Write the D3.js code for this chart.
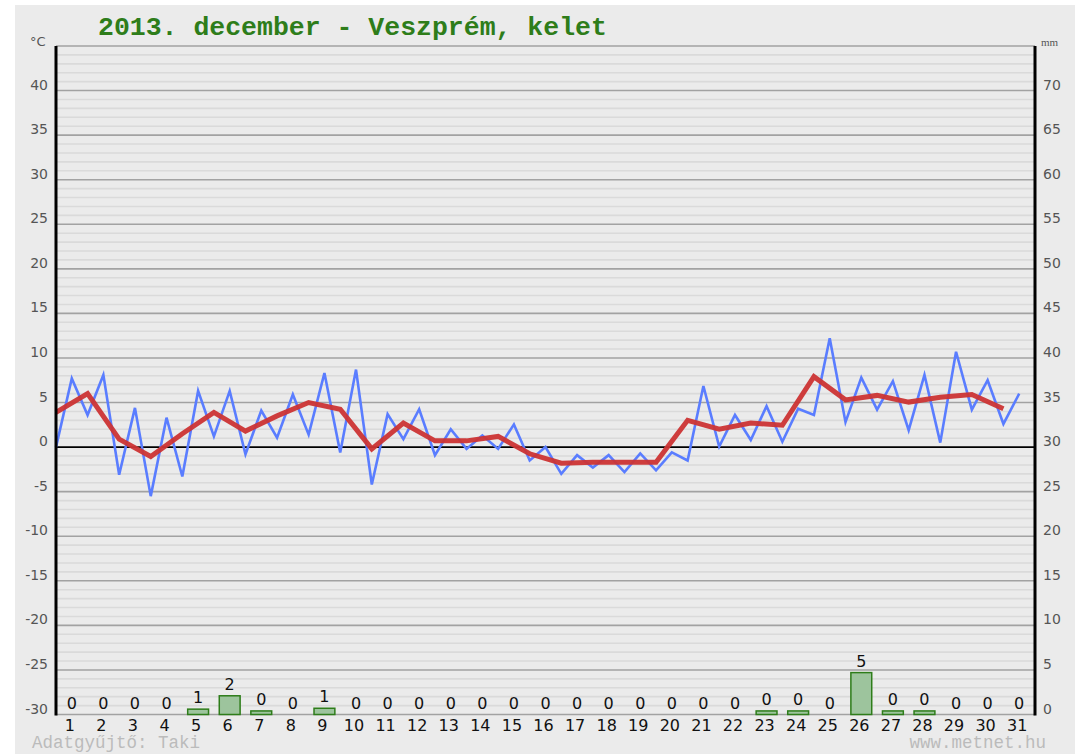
<!DOCTYPE html>
<html>
<head>
<meta charset="utf-8">
<script src="https://cdn.jsdelivr.net/npm/d3@7"></script>
<style>
  body { margin: 0; background: #fff; }
  svg text { font-family: "DejaVu Sans", Verdana, sans-serif; }
</style>
</head>
<body>
<script>
var days = d3.range(1, 32);

// temperature every half day (blue), daily mean (red), precipitation mm
var halfDayTemps = [0, 7.7, 3.6, 8.1, -3.1, 4.4, -5.5, 3.3, -3.3, 6.3,
                    1.2, 6.3, -0.8, 4.1, 1.05, 5.9, 1.4, 8.3, -0.6, 8.7,
                    -4.2, 3.7, 0.9, 4.25, -0.9, 2.0, -0.2, 1.3, -0.2, 2.55,
                    -1.5, 0, -3.0, -0.9, -2.3, -0.9, -2.8, -0.7, -2.6, -0.6,
                    -1.5, 6.85, 0.05, 3.6, 0.8, 4.6, 0.6, 4.3, 3.6, 12.2,
                    2.8, 7.8, 4.2, 7.4, 1.9, 8.1, 0.5, 10.7, 4.2, 7.5,
                    2.6, 6.0];

var dailyMeans = [3.9, 6.0, 0.9, -1.05, 1.5, 3.9, 1.8, 3.5, 5.0, 4.25,
                  -0.2, 2.7, 0.7, 0.7, 1.2, -0.75, -1.8, -1.7, -1.7, -1.7,
                  3.0, 2.0, 2.7, 2.45, 7.9, 5.3, 5.8, 5.05, 5.6, 5.9, 4.3];

var precip = [0, 0, 0, 0, 0.6, 2.1, 0.4, 0, 0.7, 0,
              0, 0, 0, 0, 0, 0, 0, 0, 0, 0,
              0, 0, 0.4, 0.4, 0, 4.7, 0.4, 0.4, 0, 0, 0];

var tempTicks = [-30, -25, -20, -15, -10, -5, 0, 5, 10, 15, 20, 25, 30, 35, 40];
var mmTicks = [0, 5, 10, 15, 20, 25, 30, 35, 40, 45, 50, 55, 60, 65, 70];

var chart = {
  "width" : 1075,
  "height" : 754,
  "left" : 56,
  "right" : 1035,
  "top" : 46,
  "bottom" : 714.5
};

var svg = d3.select("body")
            .append("svg")
            .attr("width", chart.width)
            .attr("height", chart.height);

svg.append("rect")
   .attr("x", 15)
   .attr("y", 5)
   .attr("width", chart.width - 15)
   .attr("height", chart.height - 5)
   .attr("fill", "#ebebeb");

var y = d3.scaleLinear()
          .domain([-30, 45])
          .range([chart.bottom, chart.top]);

var yMm = d3.scaleLinear()
            .domain([0, 75])
            .range([chart.bottom, chart.top]);

var x = d3.scaleBand()
          .domain(days)
          .range([chart.left, chart.right]);

var t = d3.scaleLinear()
          .domain([0, 31])
          .range([chart.left, chart.right]);

// grid
svg.append("g")
   .selectAll("line")
   .data(d3.range(-30, 46).filter(function(d) { return d % 5 != 0; }))
   .join("line")
   .attr("x1", chart.left)
   .attr("x2", chart.right)
   .attr("y1", function(d) { return y(d); })
   .attr("y2", function(d) { return y(d); })
   .attr("stroke", "#dadada")
   .attr("stroke-width", 1.6);

svg.append("g")
   .selectAll("line")
   .data(d3.range(-30, 46, 5))
   .join("line")
   .attr("x1", chart.left)
   .attr("x2", chart.right)
   .attr("y1", function(d) { return y(d); })
   .attr("y2", function(d) { return y(d); })
   .attr("stroke", function(d) { return d == 0 ? "#000" : "#a2a2a2"; })
   .attr("stroke-width", 1.6);

// precipitation bars
var barW = x.bandwidth() * 0.66;

svg.append("g")
   .selectAll("rect")
   .data(precip)
   .join("rect")
   .attr("x", function(d, i) { return x(days[i]) + (x.bandwidth() - barW) / 2; })
   .attr("y", function(d) { return yMm(d); })
   .attr("width", barW)
   .attr("height", function(d) { return yMm(0) - yMm(d); })
   .attr("fill", "#9dc49d")
   .attr("stroke", "#2e7d1a")
   .attr("stroke-width", 1.5);

svg.append("g")
   .selectAll("text")
   .data(precip)
   .join("text")
   .attr("x", function(d, i) { return x(days[i]) + x.bandwidth() / 2; })
   .attr("y", function(d) { return yMm(d) - 6; })
   .attr("text-anchor", "middle")
   .attr("font-size", 16)
   .attr("fill", "#111")
   .text(function(d) { return Math.round(d); });

// lines
var blueLine = d3.line()
                 .x(function(d, i) { return t(i / 2); })
                 .y(function(d) { return y(d); });

var redLine = d3.line()
                .x(function(d, i) { return t(i); })
                .y(function(d) { return y(d); });

svg.append("path")
   .datum(halfDayTemps)
   .attr("d", blueLine)
   .attr("fill", "none")
   .attr("stroke", "#5a7dff")
   .attr("stroke-width", 2.6)
   .attr("stroke-linejoin", "miter");

svg.append("path")
   .datum(dailyMeans)
   .attr("d", redLine)
   .attr("fill", "none")
   .attr("stroke", "#cc3434")
   .attr("stroke-width", 5)
   .attr("stroke-opacity", 0.95);

// axes lines
svg.append("line")
   .attr("x1", chart.left)
   .attr("x2", chart.left)
   .attr("y1", chart.top)
   .attr("y2", chart.bottom + 1)
   .attr("stroke", "#000")
   .attr("stroke-width", 3);

svg.append("line")
   .attr("x1", chart.right)
   .attr("x2", chart.right)
   .attr("y1", chart.top)
   .attr("y2", chart.bottom + 1)
   .attr("stroke", "#000")
   .attr("stroke-width", 3);

// tick labels
svg.append("g")
   .selectAll("text")
   .data(tempTicks)
   .join("text")
   .attr("x", 48)
   .attr("y", function(d) { return y(d) - 1; })
   .attr("text-anchor", "end")
   .attr("font-size", 14)
   .attr("fill", "#555")
   .text(function(d) { return d; });

svg.append("g")
   .selectAll("text")
   .data(mmTicks)
   .join("text")
   .attr("x", 1043)
   .attr("y", function(d) { return yMm(d) - 1; })
   .attr("font-size", 14)
   .attr("fill", "#555")
   .text(function(d) { return d; });

svg.append("g")
   .selectAll("text")
   .data(days)
   .join("text")
   .attr("x", function(d) { return x(d) + x.bandwidth() / 2 - 2; })
   .attr("y", 731)
   .attr("text-anchor", "middle")
   .attr("font-size", 16)
   .attr("fill", "#111")
   .text(function(d) { return d; });

svg.append("text")
   .attr("x", 30)
   .attr("y", 46)
   .attr("font-size", 13)
   .attr("fill", "#555")
   .text("°C");

svg.append("text")
   .attr("x", 1041)
   .attr("y", 46)
   .attr("font-size", 11)
   .attr("fill", "#555")
   .style("font-family", "Liberation Serif, serif")
   .text("mm");

svg.append("text")
   .attr("x", 98)
   .attr("y", 35)
   .attr("font-size", 26.5)
   .attr("font-weight", "bold")
   .attr("fill", "#2e7d1a")
   .style("font-family", "Liberation Mono, monospace")
   .text("2013. december - Veszprém, kelet");

svg.append("text")
   .attr("x", 32)
   .attr("y", 748)
   .attr("font-size", 17.5)
   .attr("fill", "#bbb")
   .style("font-family", "Liberation Mono, monospace")
   .text("Adatgyűjtő: Taki");

svg.append("text")
   .attr("x", 1046)
   .attr("y", 748)
   .attr("text-anchor", "end")
   .attr("font-size", 17.5)
   .attr("fill", "#bbb")
   .style("font-family", "Liberation Mono, monospace")
   .text("www.metnet.hu");
</script>
</body>
</html>
